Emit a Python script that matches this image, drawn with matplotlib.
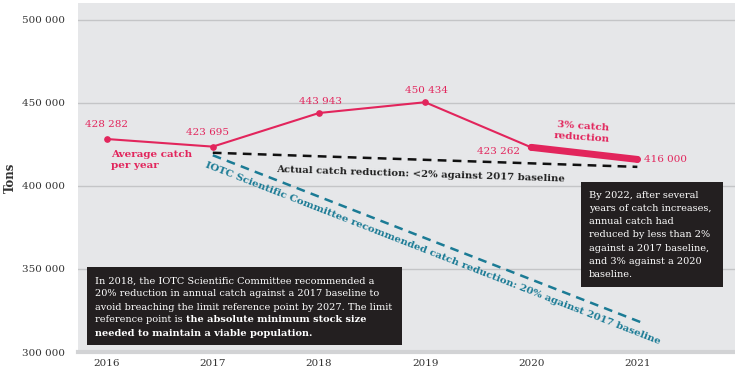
import matplotlib
matplotlib.use('Agg')
import matplotlib.pyplot as plt
from matplotlib.patches import Rectangle
from matplotlib.transforms import IdentityTransform
import numpy as np

# ---- data ----
years = [2016, 2017, 2018, 2019, 2020, 2021]
catch = [428282, 423695, 443943, 450434, 423262, 416000]
value_labels = ['428 282', '423 695', '443 943', '450 434', '423 262', '416 000']
actual_x = [2017, 2021]
actual_y = [420000, 411500]
iotc_x = [2017, 2021.03]
iotc_y = [418500, 318000]
yticks = [300000, 350000, 400000, 450000, 500000]
ytick_labels = ['300 000', '350 000', '400 000', '450 000', '500 000']
xtick_labels = ['2016', '2017', '2018', '2019', '2020', '2021']

PINK = '#e2255c'
TEAL = '#1b7b95'
BG = '#e6e7e9'
DARK = '#231f20'
TXT = '#333333'
FONT = ['DejaVu Serif']

plt.rcParams['font.family'] = FONT

W, H = 735, 372
fig = plt.figure(figsize=(W / 100, H / 100), dpi=100)
ax = fig.add_axes([78 / W, 1 - 352 / H, (735 - 78) / W, (352 - 3) / H])
ax.set_facecolor(BG)
ax.set_xlim(2015.73, 2021.92)
ax.set_ylim(300000, 510200)

for s in ['top', 'right', 'left']:
    ax.spines[s].set_visible(False)
ax.spines['bottom'].set_color('#d2d3d5')
ax.spines['bottom'].set_linewidth(3)

ax.set_yticks(yticks)
ax.set_yticklabels(ytick_labels)
ax.set_xticks(years)
ax.set_xticklabels(xtick_labels)
ax.tick_params(axis='both', length=0, labelsize=7.5, colors=TXT)
ax.tick_params(axis='y', pad=9.5)
ax.tick_params(axis='x', pad=5)
ax.grid(axis='y', color='#c4c5c7', lw=1)
ax.set_axisbelow(True)
ax.set_ylabel('Tons', fontsize=8.5, fontweight='bold', color=TXT)
ax.yaxis.set_label_coords(-0.0925, 0.5)

# dashed reference lines
ax.plot(actual_x, actual_y, color='#111111', lw=1.8, dashes=(3.5, 2.5), zorder=3)
ax.plot(iotc_x, iotc_y, color=TEAL, lw=1.8, dashes=(3.5, 2.5), zorder=3)

# catch line
ax.plot(years[:5], catch[:5], color=PINK, lw=1.5, zorder=4)
ax.plot(years[4:], catch[4:], color=PINK, lw=5, solid_capstyle='round', zorder=4)
ax.plot(years, catch, 'o', color=PINK, ms=3.8, zorder=5)

# value labels
offsets = [(0, 7, 'center', 'bottom'), (-4, 7, 'center', 'bottom'), (1, 5, 'center', 'bottom'),
           (1, 5, 'center', 'bottom'), (-8, -3, 'right', 'center'), (5, 0, 'left', 'center')]
for x, y, lab, (dx, dy, ha, va) in zip(years, catch, value_labels, offsets):
    ax.annotate(lab, (x, y), xytext=(dx, dy), textcoords='offset points',
                ha=ha, va=va, fontsize=7.5, color=PINK, zorder=6)

ax.annotate('Average catch\nper year', (years[0], catch[0]), xytext=(3, -8),
            textcoords='offset points', ha='left', va='top', fontsize=7.5,
            fontweight='bold', color=PINK, linespacing=1.25)


def angle(xs, ys):
    p = ax.transData.transform(np.column_stack([xs, ys]))
    return np.degrees(np.arctan2(p[1, 1] - p[0, 1], p[1, 0] - p[0, 0]))


a_black = angle(actual_x, actual_y)
a_teal = angle(iotc_x, iotc_y)

ax.annotate('Actual catch reduction: <2% against 2017 baseline',
            (2017.6, actual_y[0] - (actual_y[0] - actual_y[1]) * 0.15),
            xytext=(0, -7), textcoords='offset points', ha='left', va='top',
            rotation=a_black, rotation_mode='anchor', fontsize=7.3, fontweight='bold',
            color='#222222', zorder=6)

ax.annotate('IOTC Scientific Committee recommended catch reduction: 20% against 2017 baseline',
            (iotc_x[0], iotc_y[0]), xytext=(-4, -4), textcoords='offset points',
            ha='left', va='top', rotation=a_teal, rotation_mode='anchor',
            fontsize=7.3, fontweight='bold', color=TEAL, zorder=6)

ax.annotate('3% catch\nreduction', (years[4], catch[4]), xytext=(37, 11),
            textcoords='offset points', ha='center', va='center', rotation=-4,
            fontsize=7.5, fontweight='bold', color=PINK, linespacing=1.35, zorder=6)

# ---- text boxes ----
def box(x0, y0, x1, y1):
    fig.patches.append(Rectangle((x0 / W, 1 - y1 / H), (x1 - x0) / W, (y1 - y0) / H,
                                 transform=fig.transFigure, facecolor=DARK,
                                 edgecolor='none', zorder=10))

box(87, 267, 402, 345)
box(581, 182, 723, 287)

BOX_FS = 7
ident = IdentityTransform()
left_lines = [
    [('In 2018, the IOTC Scientific Committee recommended a', 'normal')],
    [('20% reduction in annual catch against a 2017 baseline to', 'normal')],
    [('avoid breaching the limit reference point by 2027. The limit', 'normal')],
    [('reference point is ', 'normal'), ('the absolute minimum stock size', 'bold')],
    [('needed to maintain a viable population.', 'bold')],
]
fig.canvas.draw()
renderer = fig.canvas.get_renderer()
for i, parts in enumerate(left_lines):
    x = 95
    ypix = H - (281 + 13 * i)
    for txt, wt in parts:
        t = fig.text(x, ypix, txt, transform=ident, fontsize=BOX_FS, fontweight=wt,
                     color='white', ha='left', va='center', zorder=11)
        bb = t.get_window_extent(renderer)
        x = bb.x1

right_lines = ['By 2022, after several', 'years of catch increases,', 'annual catch had',
               'reduced by less than 2%', 'against a 2017 baseline,', 'and 3% against a 2020',
               'baseline.']
for i, txt in enumerate(right_lines):
    fig.text(589, H - (195 + 13.3 * i), txt, transform=ident, fontsize=BOX_FS,
             color='white', ha='left', va='center', zorder=11)

fig.savefig('out.png', dpi=100)
